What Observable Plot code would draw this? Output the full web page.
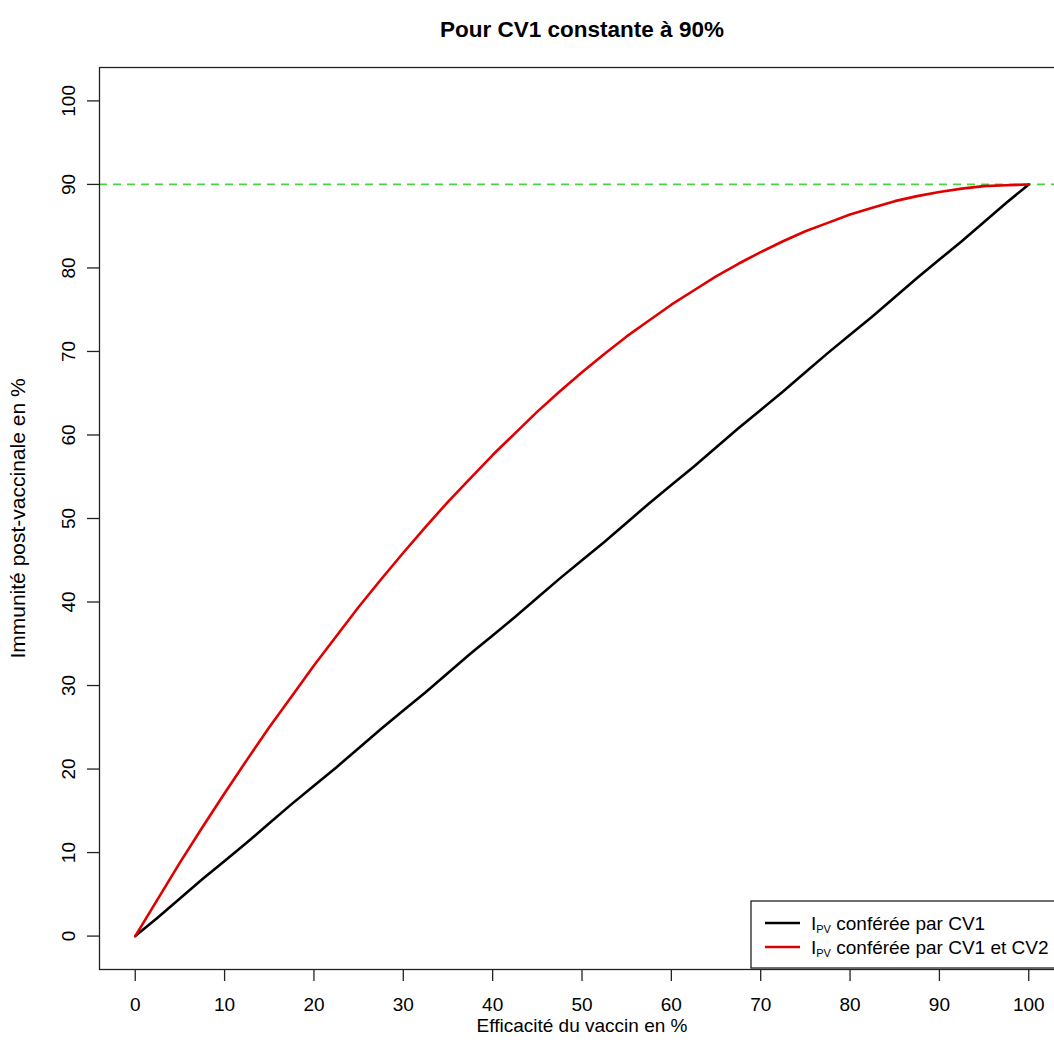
<!DOCTYPE html>
<html><head><meta charset="utf-8">
<script src="https://cdn.jsdelivr.net/npm/d3@7"></script>
<script src="https://cdn.jsdelivr.net/npm/@observablehq/plot@0.6"></script>
<style>html,body{margin:0;padding:0;background:#fff;overflow:hidden}</style>
</head><body><div id="chart"></div>
<script>
const efficacite = [0,2.5,5,7.5,10,12.5,15,17.5,20,22.5,25,27.5,30,32.5,35,37.5,40,42.5,45,47.5,50,52.5,55,57.5,60,62.5,65,67.5,70,72.5,75,77.5,80,82.5,85,87.5,90,92.5,95,97.5,100];
const ipvCV1 = [0,2.2,4.5,6.8,9,11.2,13.5,15.8,18,20.2,22.5,24.8,27,29.2,31.5,33.8,36,38.2,40.5,42.8,45,47.2,49.5,51.8,54,56.2,58.5,60.8,63,65.2,67.5,69.8,72,74.2,76.5,78.8,81,83.2,85.5,87.8,90];
const ipvCV1CV2 = [0,4.4,8.8,13.0,17.1,21.1,25.0,28.7,32.4,35.9,39.4,42.7,45.9,49.0,52.0,54.8,57.6,60.2,62.8,65.2,67.5,69.7,71.8,73.7,75.6,77.3,79.0,80.5,81.9,83.2,84.4,85.4,86.4,87.2,88.0,88.6,89.1,89.5,89.8,89.9,90];
const xTicks = [0,10,20,30,40,50,60,70,80,90,100];
const yTicks = [0,10,20,30,40,50,60,70,80,90,100];
const cv1Constante = 90;
const titre = "Pour CV1 constante à 90%";
const labelX = "Efficacité du vaccin en %";
const labelY = "Immunité post-vaccinale en %";
const legendLabels = ["conférée par CV1", "conférée par CV1 et CV2"];
const legendColors = ["#000000", "#e00000"];

const data = efficacite.map((e, i) => ({e, a: ipvCV1[i], b: ipvCV1CV2[i]}));
const font = "'Liberation Sans', Arial, sans-serif";

const svg = Plot.plot({
  width: 1054, height: 1060,
  marginLeft: 99, marginRight: -10, marginTop: 67, marginBottom: 91,
  x: {domain: [-4, 104]},
  y: {domain: [-4, 104]},
  style: {fontFamily: font, fontSize: "19px", color: "#000", background: "#fff"},
  marks: [
    Plot.ruleY([cv1Constante], {stroke: "#44d444", strokeWidth: 1.7, strokeDasharray: "8,6"}),
    Plot.line(data, {x: "e", y: "a", stroke: legendColors[0], strokeWidth: 2.6}),
    Plot.line(data, {x: "e", y: "b", stroke: legendColors[1], strokeWidth: 2.6}),
    Plot.frame({stroke: "#222", strokeWidth: 1.3}),
    Plot.axisX({ticks: xTicks, tickSize: 12, tickPadding: 16, label: null, stroke: "#222", strokeWidth: 1.3, fontSize: 19}),
    Plot.axisY({ticks: yTicks, tickSize: 12, tickFormat: () => "", label: null, stroke: "#222", strokeWidth: 1.3}),
    Plot.text(yTicks, {y: d => d, text: d => String(d), frameAnchor: "left", dx: -31, rotate: -90, textAnchor: "middle", lineAnchor: "middle", fontSize: 19}),
    Plot.text([titre], {frameAnchor: "top", dy: -38, text: d => d, fontWeight: "bold", fontSize: 22.5, lineAnchor: "middle"}),
    Plot.text([labelX], {frameAnchor: "bottom", dy: 56, text: d => d, fontSize: 19, lineAnchor: "middle"}),
    Plot.text([labelY], {frameAnchor: "left", dx: -81, text: d => d, rotate: -90, textAnchor: "middle", fontSize: 21, lineAnchor: "middle"})
  ]
});

// legend (R-style box)
const g = d3.select(svg).append("g").attr("font-family", font).attr("font-size", 19).attr("text-anchor", "start");
g.append("rect").attr("x", 751).attr("y", 901).attr("width", 400).attr("height", 67)
  .attr("fill", "#fff").attr("stroke", "#222").attr("stroke-width", 1.3);
legendLabels.forEach((lab, i) => {
  const cy = 923 + i * 24;
  g.append("line").attr("x1", 765).attr("x2", 800).attr("y1", cy).attr("y2", cy)
    .attr("stroke", legendColors[i]).attr("stroke-width", 2.6);
  const t = g.append("text").attr("x", 811).attr("y", cy + 6.5).attr("fill", "#000").attr("text-anchor", "start");
  t.append("tspan").text("I");
  t.append("tspan").attr("font-size", 11).attr("dy", 3).text("PV");
  t.append("tspan").attr("dy", -3).text(" " + lab);
});

document.getElementById("chart").appendChild(svg);
</script>
</body></html>
